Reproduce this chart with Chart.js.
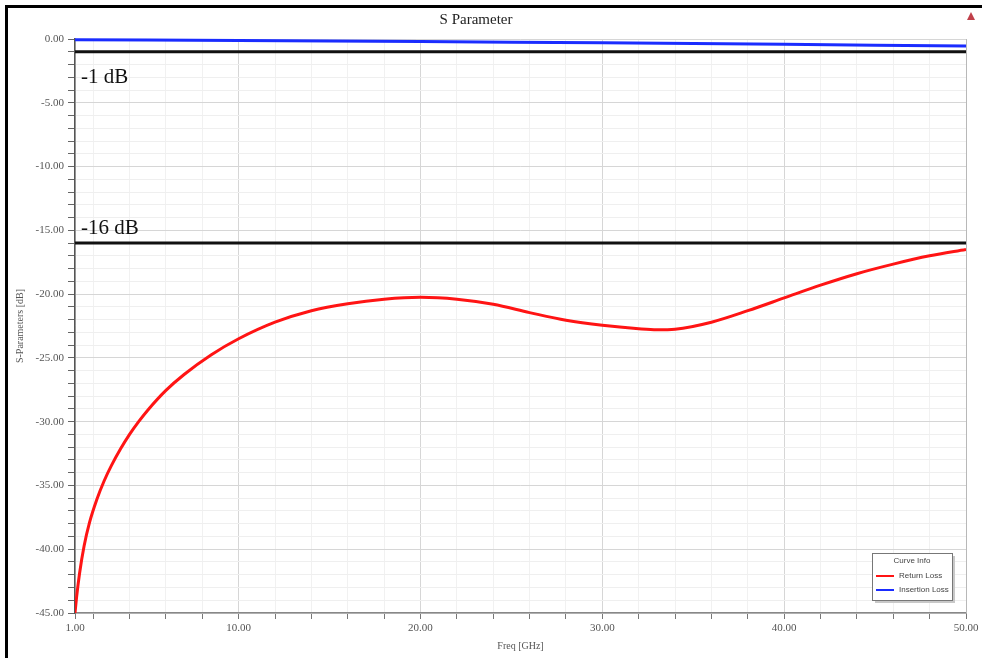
<!DOCTYPE html>
<html>
<head>
<meta charset="utf-8">
<title>S Parameter</title>
<script src="https://cdn.jsdelivr.net/npm/chart.js@4.4.1/dist/chart.umd.min.js"></script>
<style>
    html, body { margin: 0; padding: 0; background: #ffffff; }
    #wrap { position: relative; width: 982px; height: 658px; }
</style>
</head>
<body>
<div id="wrap"><canvas id="sparam" width="982" height="658"></canvas></div>
<script>
/* --------------- Data --------------------------------------- */
const returnFreq = [1, 1.1, 1.25, 1.5, 1.8, 2.2, 2.6, 3, 3.5, 4, 4.5, 5, 6, 7, 8.5, 10, 12, 14, 16, 18, 20, 22, 24, 26, 28, 30, 32, 33, 34, 36, 38, 40, 42, 44, 46, 48, 50];
const returnLoss = [-45, -43.6, -41.9, -39.75, -37.9, -36.1, -34.65, -33.45, -32.15, -31.0, -30.0, -29.1, -27.55, -26.3, -24.75, -23.5, -22.2, -21.3, -20.75, -20.4, -20.25, -20.4, -20.8, -21.45, -22.05, -22.45, -22.72, -22.8, -22.75, -22.2, -21.3, -20.3, -19.3, -18.4, -17.65, -17.0, -16.5];
const insertFreq = [1, 5, 10, 15, 20, 25, 30, 35, 40, 45, 50];
const insertLoss = [-0.05, -0.08, -0.12, -0.16, -0.2, -0.25, -0.3, -0.36, -0.42, -0.49, -0.55];
const limitLevels = [-1, -16];
const limitLabels = ["-1 dB", "-16 dB"];
const curveLabels = ["Return Loss", "Insertion Loss"];
const curveColors = ["#ff1414", "#1a2cff"];
/* --------------- Tick labels --------------------- */
const xMajorTicks = [1, 10, 20, 30, 40, 50];
const xMinorTicks = [2, 4, 6, 8, 12, 14, 16, 18, 22, 24, 26, 28, 32, 34, 36, 38, 42, 44, 46, 48];
const freqMin = 1, freqMax = 50;
const dbMin = -45, dbMax = 0;

const toPoints = (xs, ys) => xs.map((x, i) => ({ x: x, y: ys[i] }));

const serif = "'Liberation Serif', 'DejaVu Serif', serif";

/* --------------- Frame, title, annotations, legend --------------------- */
const decorPlugin = {
    id: "decor",
    beforeDraw(chart) {
        const c = chart.ctx;
        c.save();
        c.fillStyle = "#ffffff";
        c.fillRect(0, 0, chart.width, chart.height);
        // outer black frame (top and left only visible)
        c.strokeStyle = "#000000";
        c.lineWidth = 3;
        c.beginPath();
        c.moveTo(6.5, chart.height);
        c.lineTo(6.5, 6.5);
        c.lineTo(chart.width, 6.5);
        c.stroke();
        // title
        c.fillStyle = "#222222";
        c.font = "15px " + serif;
        c.textAlign = "center";
        c.textBaseline = "middle";
        c.fillText("S Parameter", 476, 20);
        // red marker in the corner
        c.fillStyle = "#c0404a";
        c.beginPath();
        c.moveTo(971, 12);
        c.lineTo(975, 20);
        c.lineTo(967, 20);
        c.closePath();
        c.fill();
        c.restore();
    },
    beforeDatasetsDraw(chart) {
        const a = chart.chartArea;
        const c = chart.ctx;
        c.save();
        c.strokeStyle = "#b8b8b8";
        c.lineWidth = 1;
        c.beginPath();
        c.moveTo(a.right + 0.5, a.top);
        c.lineTo(a.right + 0.5, a.bottom);
        c.stroke();
        c.restore();
    },
    afterDatasetsDraw(chart) {
        const c = chart.ctx;
        const xs = chart.scales.x, ys = chart.scales.y;
        c.save();
        c.fillStyle = "#111111";
        c.font = "21px " + serif;
        c.textAlign = "left";
        c.textBaseline = "alphabetic";
        limitLevels.forEach((lvl, i) => {
            const py = ys.getPixelForValue(lvl);
            const off = i === 0 ? 31 : -9;
            c.fillText(limitLabels[i], xs.getPixelForValue(freqMin) + 6, py + off);
        });
        c.restore();
    },
    afterDraw(chart) {
        const c = chart.ctx;
        const bx = 872, by = 553, bw = 80, bh = 47;
        c.save();
        // shadow
        c.fillStyle = "#c8c8c8";
        c.fillRect(bx + 3, by + 3, bw, bh);
        c.fillStyle = "#ffffff";
        c.fillRect(bx, by, bw, bh);
        c.strokeStyle = "#777777";
        c.lineWidth = 1;
        c.strokeRect(bx + 0.5, by + 0.5, bw, bh);
        c.font = "8px 'Liberation Sans', 'DejaVu Sans', sans-serif";
        c.fillStyle = "#444444";
        c.textAlign = "center";
        c.textBaseline = "middle";
        c.fillText("Curve Info", bx + bw / 2, by + 8);
        c.textAlign = "left";
        curveLabels.forEach((lbl, i) => {
            const ly = by + 23 + i * 14;
            c.strokeStyle = curveColors[i];
            c.lineWidth = 2;
            c.beginPath();
            c.moveTo(bx + 4, ly);
            c.lineTo(bx + 22, ly);
            c.stroke();
            c.fillStyle = "#444444";
            c.fillText(lbl, bx + 27, ly);
        });
        c.restore();
    }
};

/* --------------- Chart --------------------- */
const limitSets = limitLevels.map((lvl, i) => ({
    label: limitLabels[i],
    data: [{ x: freqMin, y: lvl }, { x: freqMax, y: lvl }],
    borderColor: "#111111",
    borderWidth: 3,
    pointRadius: 0,
    clip: false,
}));

new Chart(document.getElementById("sparam"), {
    type: "line",
    plugins: [decorPlugin],
    data: {
        datasets: [
            {
                label: curveLabels[0],
                data: toPoints(returnFreq, returnLoss),
                borderColor: curveColors[0],
                borderWidth: 3,
                pointRadius: 0,
                cubicInterpolationMode: "monotone",
            },
            {
                label: curveLabels[1],
                data: toPoints(insertFreq, insertLoss),
                borderColor: curveColors[1],
                borderWidth: 3,
                pointRadius: 0,
                clip: false,
            },
            ...limitSets,
        ],
    },
    options: {
        responsive: false,
        animation: false,
        layout: { padding: { left: 0, right: 16, top: 39, bottom: 0 } },
        plugins: {
            legend: { display: false },
            tooltip: { enabled: false },
            title: { display: false },
        },
        scales: {
            x: {
                type: "linear",
                min: freqMin,
                max: freqMax,
                afterBuildTicks: (scale) => {
                    scale.ticks = xMajorTicks.concat(xMinorTicks).sort((a, b) => a - b).map((v) => ({ value: v }));
                },
                afterFit: (scale) => { scale.height = 45; },
                ticks: {
                    autoSkip: false,
                    maxRotation: 0,
                    padding: 3,
                    color: "#555555",
                    font: { family: serif, size: 11 },
                    callback: (v) => (xMajorTicks.includes(v) ? v.toFixed(2) : ""),
                },
                grid: {
                    color: (ctx) => (ctx.tick && xMajorTicks.includes(ctx.tick.value) ? "#d6d6d6" : "#f1f1f1"),
                    tickColor: "#777777",
                    tickLength: 6,
                },
                border: { color: "#888888", width: 1.5 },
                title: {
                    display: true,
                    text: "Freq [GHz]",
                    color: "#555555",
                    font: { family: serif, size: 10 },
                    padding: { top: 0, bottom: 6 },
                },
            },
            y: {
                min: dbMin,
                max: dbMax,
                afterFit: (scale) => { scale.width = 75; },
                ticks: {
                    stepSize: 1,
                    autoSkip: false,
                    padding: 4,
                    color: "#555555",
                    font: { family: serif, size: 11 },
                    callback: (v) => (v % 5 === 0 ? (v === 0 ? "0.00" : v.toFixed(2)) : ""),
                },
                grid: {
                    color: (ctx) => (ctx.tick && ctx.tick.value % 5 === 0 ? "#d6d6d6" : "#efefef"),
                    tickColor: "#666666",
                    tickLength: 7,
                },
                border: { color: "#555555", width: 1.5 },
                title: {
                    display: true,
                    text: "S-Parameters [dB]",
                    color: "#555555",
                    font: { family: serif, size: 10 },
                    padding: { top: 14, bottom: 0 },
                },
            },
        },
    },
});
</script>
</body>
</html>
